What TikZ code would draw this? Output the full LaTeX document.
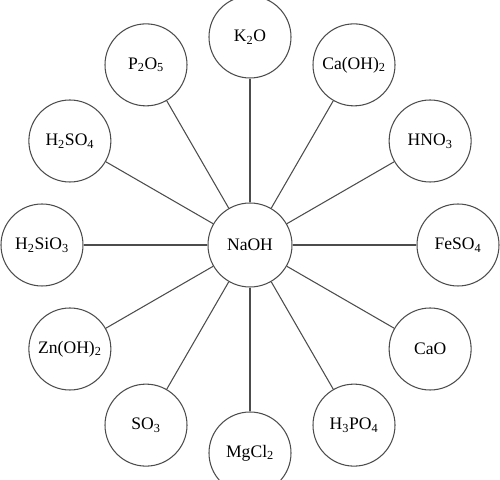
\documentclass[tikz,border=0pt]{standalone}
\usepackage{fontspec}
\setmainfont{Liberation Serif}
\usetikzlibrary{calc}
\newcommand{\chsub}[1]{\textsubscript{#1}}
\tikzset{
  chem/.style={circle, draw=black!70, line width=0.9pt, minimum size=2.46cm,
    inner sep=0pt, font=\fontsize{15}{18}\selectfont},
  bond/.style={draw=black!70, line width=0.9pt},
}

\begin{document}
\begin{tikzpicture}[x=0.03cm, y=0.03cm]
    \useasboundingbox (0,0) rectangle (500,480);
    \coordinate (C) at (250,235);

    \node[chem, minimum size=2.52cm] (naoh) at (C) {NaOH};
    \foreach \name/\ang/\lab in {
        ktwoo/90/K\chsub{2}O, caoh/60/Ca(OH)\chsub{2}, hno/30/HNO\chsub{3},
        feso/0/FeSO\chsub{4}, cao/-30/CaO, hpo/-60/H\chsub{3}PO\chsub{4},
        mgcl/-90/MgCl\chsub{2}, so/-120/SO\chsub{3}, znoh/-150/Zn(OH)\chsub{2},
        hsio/180/H\chsub{2}SiO\chsub{3}, hso/150/H\chsub{2}SO\chsub{4},
        pto/120/P\chsub{2}O\chsub{5}} {
        \node[chem] (\name) at ($(C)+(\ang:208)$) {\lab};
        \draw[bond] (naoh) -- (\name);
    }
\end{tikzpicture}
\end{document}
